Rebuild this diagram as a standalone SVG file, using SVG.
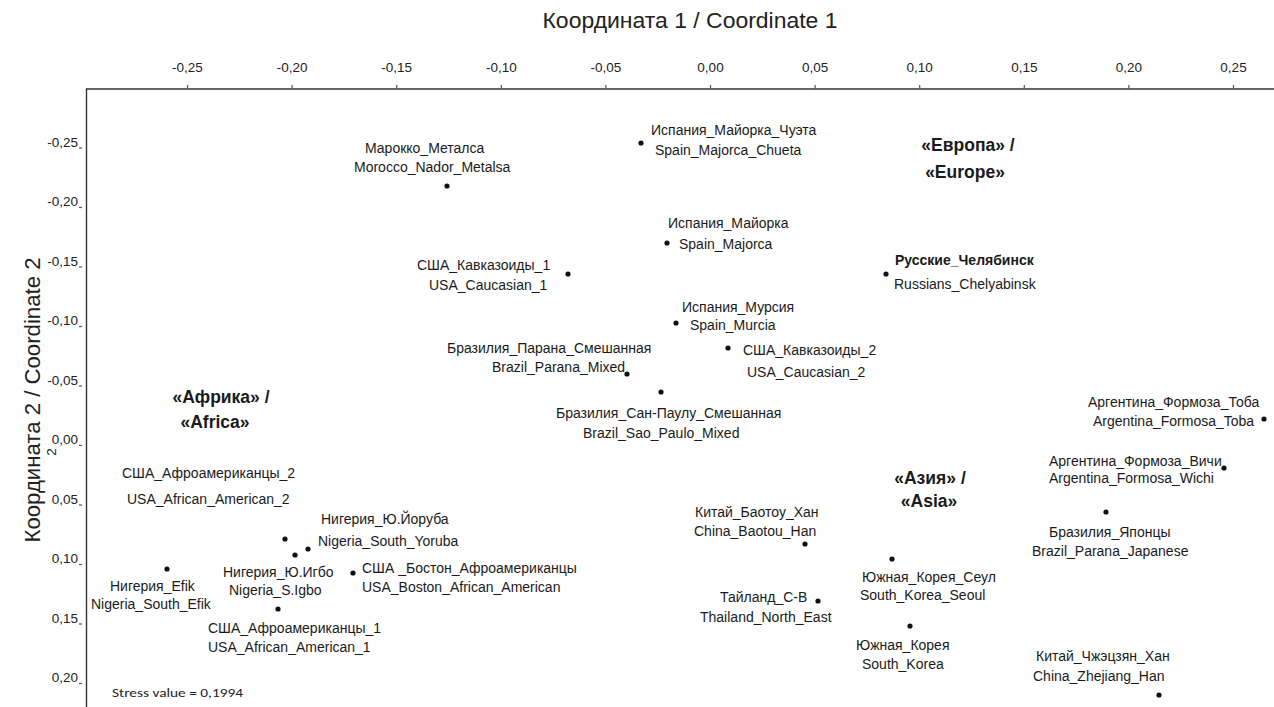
<svg xmlns="http://www.w3.org/2000/svg" width="1274" height="707" viewBox="0 0 1274 707">
<style>
.t{font-family:"Liberation Sans",Arial,sans-serif;font-size:14px;fill:#1a1a1a}
.b{font-weight:bold}
.g{font-family:"Liberation Sans",Arial,sans-serif;font-size:17.5px;font-weight:bold;fill:#1a1a1a;text-anchor:middle}
.ax{font-family:"Liberation Sans",Arial,sans-serif;font-size:13.5px;fill:#222}
.ttl{font-family:"Liberation Sans",Arial,sans-serif;font-size:22px;fill:#222;text-anchor:middle}
.d{fill:#111}
.axis{stroke:#333;stroke-width:1.4;fill:none}
.tk{stroke:#555;stroke-width:1.2}
</style>
<rect width="1274" height="707" fill="#fff"/>
<g id="axes">
  <path class="axis" d="M86.5,707 V89 H1274"/>
  <g class="tk">
    <line x1="187.5" y1="85" x2="187.5" y2="89"/><line x1="292.1" y1="85" x2="292.1" y2="89"/>
    <line x1="396.7" y1="85" x2="396.7" y2="89"/><line x1="501.3" y1="85" x2="501.3" y2="89"/>
    <line x1="605.9" y1="85" x2="605.9" y2="89"/><line x1="710.5" y1="85" x2="710.5" y2="89"/>
    <line x1="815.1" y1="85" x2="815.1" y2="89"/><line x1="919.7" y1="85" x2="919.7" y2="89"/>
    <line x1="1024.3" y1="85" x2="1024.3" y2="89"/><line x1="1128.9" y1="85" x2="1128.9" y2="89"/>
    <line x1="1233.5" y1="85" x2="1233.5" y2="89"/>
  </g>
  <g class="ax" text-anchor="middle">
    <text x="187.5" y="72">-0,25</text><text x="292.1" y="72">-0,20</text>
    <text x="396.7" y="72">-0,15</text><text x="501.3" y="72">-0,10</text>
    <text x="605.9" y="72">-0,05</text><text x="710.5" y="72">0,00</text>
    <text x="815.1" y="72">0,05</text><text x="919.7" y="72">0,10</text>
    <text x="1024.3" y="72">0,15</text><text x="1128.9" y="72">0,20</text>
    <text x="1233.5" y="72">0,25</text>
  </g>
  <g class="tk">
    <line x1="79" y1="148" x2="82" y2="148"/><line x1="79" y1="207.5" x2="82" y2="207.5"/>
    <line x1="79" y1="267" x2="82" y2="267"/><line x1="79" y1="326.5" x2="82" y2="326.5"/>
    <line x1="79" y1="386" x2="82" y2="386"/><line x1="79" y1="445.5" x2="82" y2="445.5"/>
    <line x1="79" y1="505" x2="82" y2="505"/><line x1="79" y1="564.5" x2="82" y2="564.5"/>
    <line x1="79" y1="624" x2="82" y2="624"/><line x1="79" y1="683.5" x2="82" y2="683.5"/>
  </g>
  <g class="ax" text-anchor="end">
    <text x="78" y="146.5">-0,25</text><text x="78" y="206">-0,20</text>
    <text x="78" y="265.5">-0,15</text><text x="78" y="325">-0,10</text>
    <text x="78" y="384.5">-0,05</text><text x="78" y="444">0,00</text>
    <text x="78" y="503.5">0,05</text><text x="78" y="563">0,10</text>
    <text x="78" y="622.5">0,15</text><text x="78" y="682">0,20</text>
  </g>
  <text class="ttl" x="690" y="28" textLength="295" lengthAdjust="spacingAndGlyphs">Координата 1 / Coordinate 1</text>
  <text class="ttl" transform="translate(40,400) rotate(-90)" x="0" y="0" textLength="285" lengthAdjust="spacingAndGlyphs">Координата 2 / Coordinate 2</text>
  <text class="ax" font-size="11" transform="translate(56,452) rotate(-90)" text-anchor="middle">2</text>
  <text x="112" y="697" font-family="Carlito,'Liberation Sans',sans-serif" font-size="13" fill="#222" textLength="131" lengthAdjust="spacingAndGlyphs">Stress value = 0,1994</text>
</g>
<g id="connectors"></g>
<g id="group-europe"><text class="g" x="968" y="151">«Европа» /</text><text class="g" x="965" y="178">«Europe»</text></g>
<g id="group-africa"><text class="g" x="221" y="403">«Африка» /</text><text class="g" x="215" y="428">«Africa»</text></g>
<g id="group-asia"><text class="g" x="930" y="484">«Азия» /</text><text class="g" x="929" y="507">«Asia»</text></g>
<g id="morocco"><circle class="d" cx="447" cy="186" r="2.6"/><text class="t" x="365" y="153">Марокко_Металса</text><text class="t" x="354" y="172">Morocco_Nador_Metalsa</text></g>
<g id="spain-chueta"><circle class="d" cx="641" cy="143" r="2.6"/><text class="t" x="651" y="135">Испания_Майорка_Чуэта</text><text class="t" x="655" y="155">Spain_Majorca_Chueta</text></g>
<g id="spain-majorca"><circle class="d" cx="667" cy="243" r="2.6"/><text class="t" x="668" y="228">Испания_Майорка</text><text class="t" x="679" y="249">Spain_Majorca</text></g>
<g id="usa-caucasian-1"><circle class="d" cx="568" cy="274" r="2.6"/><text class="t" x="417" y="270">США_Кавказоиды_1</text><text class="t" x="429" y="290">USA_Caucasian_1</text></g>
<g id="russians"><circle class="d" cx="886" cy="274" r="2.6"/><text class="t b" x="895" y="265">Русские_Челябинск</text><text class="t" x="894" y="289">Russians_Chelyabinsk</text></g>
<g id="spain-murcia"><circle class="d" cx="676" cy="323" r="2.6"/><text class="t" x="682" y="312">Испания_Мурсия</text><text class="t" x="690" y="330">Spain_Murcia</text></g>
<g id="usa-caucasian-2"><circle class="d" cx="728" cy="348" r="2.6"/><text class="t" x="743" y="355">США_Кавказоиды_2</text><text class="t" x="747" y="377">USA_Caucasian_2</text></g>
<g id="brazil-parana-mixed"><circle class="d" cx="627" cy="374" r="2.6"/><text class="t" x="447" y="353">Бразилия_Парана_Смешанная</text><text class="t" x="492" y="372">Brazil_Parana_Mixed</text></g>
<g id="brazil-sao-paulo"><circle class="d" cx="661" cy="392" r="2.6"/><text class="t" x="556" y="418">Бразилия_Сан-Паулу_Смешанная</text><text class="t" x="583" y="438">Brazil_Sao_Paulo_Mixed</text></g>
<g id="argentina-toba"><circle class="d" cx="1264" cy="419" r="2.6"/><text class="t" x="1088" y="407">Аргентина_Формоза_Тоба</text><text class="t" x="1093" y="426">Argentina_Formosa_Toba</text></g>
<g id="argentina-wichi"><circle class="d" cx="1224" cy="468" r="2.6"/><text class="t" x="1049" y="466">Аргентина_Формоза_Вичи</text><text class="t" x="1049" y="483">Argentina_Formosa_Wichi</text></g>
<g id="brazil-japanese"><circle class="d" cx="1106" cy="512" r="2.6"/><text class="t" x="1049" y="537">Бразилия_Японцы</text><text class="t" x="1032" y="556">Brazil_Parana_Japanese</text></g>
<g id="china-baotou"><circle class="d" cx="805" cy="544" r="2.6"/><text class="t" x="695" y="517">Китай_Баотоу_Хан</text><text class="t" x="694" y="536">China_Baotou_Han</text></g>
<g id="korea-seoul"><circle class="d" cx="892" cy="559" r="2.6"/><text class="t" x="862" y="582">Южная_Корея_Сеул</text><text class="t" x="860" y="600">South_Korea_Seoul</text></g>
<g id="thailand"><circle class="d" cx="818" cy="601" r="2.6"/><text class="t" x="720" y="602">Тайланд_С-В</text><text class="t" x="700" y="622">Thailand_North_East</text></g>
<g id="south-korea"><circle class="d" cx="910" cy="626" r="2.6"/><text class="t" x="856" y="650">Южная_Корея</text><text class="t" x="862" y="669">South_Korea</text></g>
<g id="china-zhejiang"><circle class="d" cx="1159" cy="695" r="2.6"/><text class="t" x="1036" y="661">Китай_Чжэцзян_Хан</text><text class="t" x="1033" y="681">China_Zhejiang_Han</text></g>
<g id="usa-aa-2"><circle class="d" cx="285" cy="539" r="2.6"/><text class="t" x="122" y="478">США_Афроамериканцы_2</text><text class="t" x="127" y="504">USA_African_American_2</text></g>
<g id="nigeria-yoruba"><circle class="d" cx="308" cy="549" r="2.6"/><text class="t" x="321" y="524">Нигерия_Ю.Йоруба</text><text class="t" x="318" y="546">Nigeria_South_Yoruba</text></g>
<g id="nigeria-igbo"><circle class="d" cx="295" cy="555" r="2.6"/><text class="t" x="223" y="577">Нигерия_Ю.Игбо</text><text class="t" x="229" y="595">Nigeria_S.Igbo</text></g>
<g id="nigeria-efik"><circle class="d" cx="167" cy="569" r="2.6"/><text class="t" x="110" y="591">Нигерия_Efik</text><text class="t" x="91" y="609">Nigeria_South_Efik</text></g>
<g id="usa-boston"><circle class="d" cx="353" cy="573" r="2.6"/><text class="t" x="362" y="573">США _Бостон_Афроамериканцы</text><text class="t" x="362" y="592">USA_Boston_African_American</text></g>
<g id="usa-aa-1"><circle class="d" cx="278" cy="609" r="2.6"/><text class="t" x="208" y="633">США_Афроамериканцы_1</text><text class="t" x="208" y="652">USA_African_American_1</text></g>
</svg>
